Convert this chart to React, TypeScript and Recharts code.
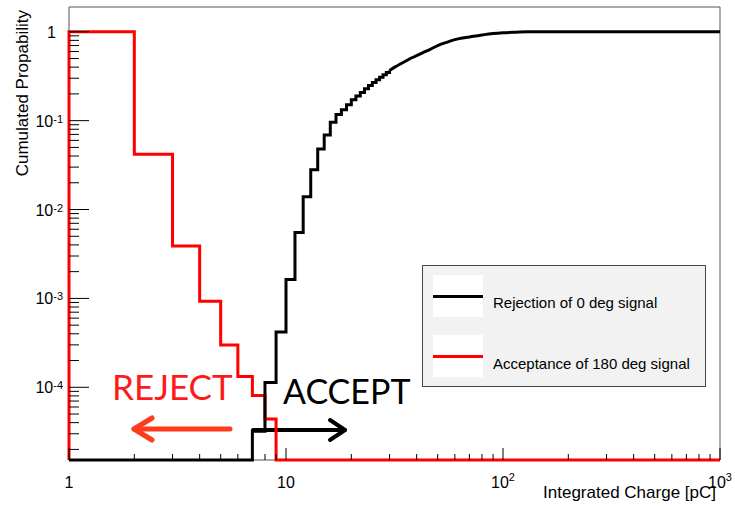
import React from "react";
import {
  LineChart,
  Line,
  XAxis,
  YAxis,
  ReferenceArea,
  Legend,
  Customized,
} from "recharts";

const WIDTH = 735;
const HEIGHT = 510;

const X_MIN = 1;
const X_MAX = 1000;
const Y_MIN = 1.52e-5;
const Y_MAX = 1.9;

// acceptance of 180 deg signal (red), bin low edges in pC
const acceptanceCharge = [1, 1, 2, 3, 4, 5, 6, 7, 8, 9, 1000];
const acceptanceProb = [0, 1, 0.042, 0.0039, 9.3e-4, 3.0e-4, 1.32e-4, 8.1e-5, 4.4e-5, 0, 0];

// rejection of 0 deg signal (black)
const rejectionCharge = [
  1, 7, 8, 9, 10, 11, 12, 13, 14, 15, 16, 17, 18, 19, 20, 21, 22, 23, 24, 25,
  26, 27, 28, 29, 30, 32, 34, 36, 38, 40, 43, 46, 50, 55, 60, 65, 70, 80, 90,
  100, 115, 130, 1000,
];
const rejectionProb = [
  0, 3.2e-5, 1.13e-4, 4.2e-4, 1.63e-3, 5.5e-3, 0.0139, 0.028, 0.048, 0.069,
  0.096, 0.117, 0.133, 0.151, 0.172, 0.19, 0.208, 0.228, 0.248, 0.268, 0.288,
  0.308, 0.328, 0.348, 0.367, 0.405, 0.44, 0.475, 0.51, 0.54, 0.585, 0.63, 0.7,
  0.76, 0.815, 0.85, 0.875, 0.92, 0.955, 0.975, 0.99, 1, 1,
];

const X_MAJOR = [1, 10, 100, 1000];
const X_LABELS = [["1"], ["10"], ["10", "2"], ["10", "3"]];
const Y_MAJOR = [1e-4, 1e-3, 1e-2, 1e-1, 1];
const Y_LABELS = [["10", "-4"], ["10", "-3"], ["10", "-2"], ["10", "-1"], ["1"]];

const REJECTION = { name: "Rejection of 0 deg signal", color: "#000000" };
const ACCEPTANCE = { name: "Acceptance of 180 deg signal", color: "#ff0000" };

const FONT = "'Liberation Sans', Arial, Helvetica, sans-serif";

// empty bins sit on the lower edge of the log axis
const floor = (v: number) => Math.max(v, Y_MIN);

const acceptanceData = acceptanceCharge.map((c, i) => ({
  charge: c,
  prob: floor(acceptanceProb[i]),
}));
const rejectionData = rejectionCharge.map((c, i) => ({
  charge: c,
  prob: floor(rejectionProb[i]),
}));
const rejectionSteps = rejectionData.filter((d) => d.charge <= 30);
const rejectionTail = rejectionData.filter((d) => d.charge >= 30);

function logTicks(min: number, max: number) {
  const out: number[] = [];
  for (let e = -6; e <= 3; e++) {
    for (let m = 1; m <= 9; m++) {
      const v = m * Math.pow(10, e);
      if (v >= min * 0.999 && v <= max * 1.001) out.push(v);
    }
  }
  return out;
}

const xTicks = logTicks(X_MIN, X_MAX);
const yTicks = logTicks(Y_MIN, Y_MAX);

const majorIndex = (list: number[], v: number) =>
  list.findIndex((m) => Math.abs(m - v) / m < 1e-6);

function XTick(props: any) {
  const { x, y, payload } = props;
  const idx = majorIndex(X_MAJOR, payload.value);
  const major = idx >= 0;
  const label = major ? X_LABELS[idx] : null;
  return (
    <g>
      <line x1={x} x2={x} y1={y} y2={y - (major ? 12 : 6)} stroke="#000" />
      {label && (
        <text
          x={x}
          y={y + 28}
          textAnchor="middle"
          fontFamily={FONT}
          fontSize={16}
          fill="#000"
        >
          {label[0]}
          {label[1] && (
            <tspan dy={-7} fontSize={11}>
              {label[1]}
            </tspan>
          )}
        </text>
      )}
    </g>
  );
}

function YTick(props: any) {
  const { x, y, payload } = props;
  const idx = majorIndex(Y_MAJOR, payload.value);
  const major = idx >= 0;
  const label = major ? Y_LABELS[idx] : null;
  return (
    <g>
      <line x1={x} x2={x + (major ? 20 : 10)} y1={y} y2={y} stroke="#000" />
      {label && (
        <text
          x={label[1] ? x - 6 : x - 13}
          y={y + 6}
          textAnchor="end"
          fontFamily={FONT}
          fontSize={16}
          fill="#000"
        >
          {label[0]}
          {label[1] && (
            <tspan dy={-4} fontSize={11}>
              {label[1]}
            </tspan>
          )}
        </text>
      )}
    </g>
  );
}

function LegendBox() {
  const items = [REJECTION, ACCEPTANCE];
  return (
    <div
      style={{
        position: "relative",
        width: 284,
        height: 122,
        boxSizing: "border-box",
        background: "#f2f2f2",
        border: "1px solid #444",
        fontFamily: FONT,
        fontSize: 15,
        color: "#000",
      }}
    >
      {items.map((item, i) => (
        <React.Fragment key={item.name}>
          <div
            style={{
              position: "absolute",
              left: 10,
              top: 9 + i * 60,
              width: 50,
              height: 42,
              background: "#fff",
            }}
          />
          <div
            style={{
              position: "absolute",
              left: 10,
              top: 29 + i * 60,
              width: 50,
              height: 3,
              background: item.color,
            }}
          />
          <div
            style={{
              position: "absolute",
              left: 70,
              top: 28 + i * 61,
              lineHeight: "18px",
              whiteSpace: "nowrap",
            }}
          >
            {item.name}
          </div>
        </React.Fragment>
      ))}
    </div>
  );
}

function Annotations() {
  return (
    <g>
      <text
        transform="rotate(-90)"
        x={-10}
        y={28}
        textAnchor="end"
        fontFamily={FONT}
        fontSize={17}
        fill="#000"
      >
        Cumulated Propability
      </text>
      <text
        x={716}
        y={498}
        textAnchor="end"
        fontFamily={FONT}
        fontSize={17}
        fill="#000"
      >
        Integrated Charge [pC]
      </text>

      <text x={112} y={400} fontFamily="Lato, 'Open Sans', sans-serif" fontSize={35} fill="#ff1a1a">
        REJECT
      </text>
      <g stroke="#ff3b1f" strokeWidth={5} strokeLinecap="round" fill="none">
        <line x1={230} y1={429} x2={134} y2={429} />
        <polyline points="152,418 134,429 152,440" strokeLinejoin="round" />
      </g>

      <text x={283} y={404} fontFamily="Lato, 'Open Sans', sans-serif" fontSize={34} fill="#000">
        ACCEPT
      </text>
      <g stroke="#000" strokeWidth={4} strokeLinecap="round" fill="none">
        <line x1={253} y1={430} x2={345} y2={430} />
        <polyline points="330,420 345,430 330,440" strokeLinejoin="round" />
      </g>
    </g>
  );
}

export default function App() {
  return (
    <div style={{ position: "absolute", left: 0, top: 0, background: "#fff" }}>
      <LineChart
        width={WIDTH}
        height={HEIGHT}
        margin={{ top: 7, right: 15, bottom: 0, left: 0 }}
      >
        <XAxis
          dataKey="charge"
          type="number"
          scale="log"
          domain={[X_MIN, X_MAX]}
          ticks={xTicks}
          interval={0}
          height={50}
          tickSize={0}
          tickMargin={0}
          axisLine={false}
          tickLine={false}
          tick={<XTick />}
        />
        <YAxis
          dataKey="prob"
          type="number"
          scale="log"
          domain={[Y_MIN, Y_MAX]}
          ticks={yTicks}
          interval={0}
          width={69}
          tickSize={0}
          tickMargin={0}
          axisLine={false}
          tickLine={false}
          tick={<YTick />}
        />
        <ReferenceArea
          x1={X_MIN}
          x2={X_MAX}
          y1={Y_MIN}
          y2={Y_MAX}
          fill="none"
          stroke="#555"
          strokeWidth={1}
          fillOpacity={0}
        />
        <Line
          data={acceptanceData}
          dataKey="prob"
          name={ACCEPTANCE.name}
          type="stepAfter"
          stroke={ACCEPTANCE.color}
          strokeWidth={3}
          dot={false}
          activeDot={false}
          isAnimationActive={false}
        />
        <Line
          data={rejectionSteps}
          dataKey="prob"
          name={REJECTION.name}
          type="stepAfter"
          stroke={REJECTION.color}
          strokeWidth={3}
          dot={false}
          activeDot={false}
          isAnimationActive={false}
        />
        <Line
          data={rejectionTail}
          dataKey="prob"
          name={REJECTION.name}
          legendType="none"
          type="monotone"
          stroke={REJECTION.color}
          strokeWidth={3}
          dot={false}
          activeDot={false}
          isAnimationActive={false}
        />
        <Legend
          layout="horizontal"
          verticalAlign="middle"
          align="center"
          content={<LegendBox />}
          wrapperStyle={{ left: 422, top: 265, width: 284, height: 122 }}
        />
        <Customized component={<Annotations />} />
      </LineChart>
    </div>
  );
}
